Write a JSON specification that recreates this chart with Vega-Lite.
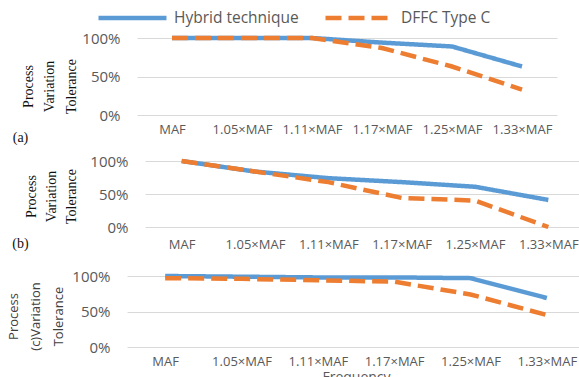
{
  "$schema": "https://vega.github.io/schema/vega-lite/v6.json",
  "autosize": {"type": "pad"},
  "padding": {"left": 0, "top": -19, "right": 0, "bottom": 0},
  "config": {
    "view": {"stroke": null},
    "font": "Open Sans",
    "axis": {"labelFont": "Open Sans", "titleFont": "Open Sans", "titleFontWeight": "normal"}
  },
  "data": {"values": [
    {"panel": "a", "series": "Hybrid technique", "freq": "MAF", "tol": 100},
    {"panel": "a", "series": "Hybrid technique", "freq": "1.05×MAF", "tol": 100},
    {"panel": "a", "series": "Hybrid technique", "freq": "1.11×MAF", "tol": 100},
    {"panel": "a", "series": "Hybrid technique", "freq": "1.17×MAF", "tol": 94},
    {"panel": "a", "series": "Hybrid technique", "freq": "1.25×MAF", "tol": 89},
    {"panel": "a", "series": "Hybrid technique", "freq": "1.33×MAF", "tol": 63},
    {"panel": "a", "series": "DFFC Type C", "freq": "MAF", "tol": 100},
    {"panel": "a", "series": "DFFC Type C", "freq": "1.05×MAF", "tol": 100},
    {"panel": "a", "series": "DFFC Type C", "freq": "1.11×MAF", "tol": 100},
    {"panel": "a", "series": "DFFC Type C", "freq": "1.17×MAF", "tol": 87},
    {"panel": "a", "series": "DFFC Type C", "freq": "1.25×MAF", "tol": 63},
    {"panel": "a", "series": "DFFC Type C", "freq": "1.33×MAF", "tol": 33},
    {"panel": "b", "series": "Hybrid technique", "freq": "MAF", "tol": 100},
    {"panel": "b", "series": "Hybrid technique", "freq": "1.05×MAF", "tol": 84},
    {"panel": "b", "series": "Hybrid technique", "freq": "1.11×MAF", "tol": 74},
    {"panel": "b", "series": "Hybrid technique", "freq": "1.17×MAF", "tol": 68},
    {"panel": "b", "series": "Hybrid technique", "freq": "1.25×MAF", "tol": 61},
    {"panel": "b", "series": "Hybrid technique", "freq": "1.33×MAF", "tol": 41},
    {"panel": "b", "series": "DFFC Type C", "freq": "MAF", "tol": 100},
    {"panel": "b", "series": "DFFC Type C", "freq": "1.05×MAF", "tol": 84},
    {"panel": "b", "series": "DFFC Type C", "freq": "1.11×MAF", "tol": 68},
    {"panel": "b", "series": "DFFC Type C", "freq": "1.17×MAF", "tol": 44},
    {"panel": "b", "series": "DFFC Type C", "freq": "1.25×MAF", "tol": 40},
    {"panel": "b", "series": "DFFC Type C", "freq": "1.33×MAF", "tol": 0},
    {"panel": "c", "series": "Hybrid technique", "freq": "MAF", "tol": 100},
    {"panel": "c", "series": "Hybrid technique", "freq": "1.05×MAF", "tol": 99},
    {"panel": "c", "series": "Hybrid technique", "freq": "1.11×MAF", "tol": 98},
    {"panel": "c", "series": "Hybrid technique", "freq": "1.17×MAF", "tol": 98},
    {"panel": "c", "series": "Hybrid technique", "freq": "1.25×MAF", "tol": 97},
    {"panel": "c", "series": "Hybrid technique", "freq": "1.33×MAF", "tol": 69},
    {"panel": "c", "series": "DFFC Type C", "freq": "MAF", "tol": 97},
    {"panel": "c", "series": "DFFC Type C", "freq": "1.05×MAF", "tol": 96},
    {"panel": "c", "series": "DFFC Type C", "freq": "1.11×MAF", "tol": 94},
    {"panel": "c", "series": "DFFC Type C", "freq": "1.17×MAF", "tol": 92},
    {"panel": "c", "series": "DFFC Type C", "freq": "1.25×MAF", "tol": 74},
    {"panel": "c", "series": "DFFC Type C", "freq": "1.33×MAF", "tol": 45}
  ]},
  "bounds": "full",
  "spacing": 8,
  "resolve": {"scale": {"x": "independent", "y": "independent"}, "axis": {"x": "independent", "y": "independent"}},
  "vconcat": [
    {
      "hconcat": [
        {"width": 137, "height": 77, "data": {"values": []}, "mark": "point"},
        {
          "width": 420, "height": 77,
          "transform": [{"filter": "datum.panel === 'a'"}],
          "encoding": {
            "x": {"field": "freq", "type": "nominal", "sort": ["MAF", "1.05×MAF", "1.11×MAF", "1.17×MAF", "1.25×MAF", "1.33×MAF"],
              "scale": {"type": "point", "padding": 0.5},
              "axis": {"title": "(a)", "titleFont": "Liberation Serif", "titleFontSize": 14, "titleColor": "#111111", "titleX": -117, "titleY": 22, "titleAlign": "center", "titleBaseline": "middle", "titleAngle": 0,
                "labelAngle": 0, "labelFontSize": 13, "labelColor": "#595959", "labelPadding": 8, "labelOverlap": false, "domain": false, "ticks": false, "grid": false}},
            "y": {"field": "tol", "type": "quantitative", "scale": {"domain": [0, 100], "nice": false},
              "axis": {"values": [0, 50, 100], "labelExpr": "datum.value + '%'", "grid": true, "gridColor": "#d9d9d9", "gridWidth": 1.2, "domain": false, "ticks": false,
                "labelPadding": 17, "labelFontSize": 15, "labelColor": "#595959",
                "title": ["Process", "Variation", "Tolerance"], "titleFont": "Liberation Serif", "titleFontSize": 14, "titleColor": "#111111",
                "titleAngle": 270, "titleAlign": "center", "titleBaseline": "alphabetic", "titleX": -105, "titleY": 48, "titleLineHeight": 21.5}},
            "color": {"field": "series", "type": "nominal", "title": null,
              "scale": {"domain": ["Hybrid technique", "DFFC Type C"], "range": ["#5b9bd5", "#ed7d31"]},
              "legend": {"orient": "none", "legendX": 96, "legendY": -56.7, "direction": "horizontal", "symbolType": "stroke", "symbolSize": 4624, "symbolStrokeWidth": 4.5, "labelFontSize": 15.5, "labelColor": "#595959", "labelOffset": 5, "columnPadding": 17, "padding": 0}},
            "strokeDash": {"field": "series", "type": "nominal", "title": null,
              "scale": {"domain": ["Hybrid technique", "DFFC Type C"], "range": [[1, 0], [16, 7]]},
              "legend": {"orient": "none", "legendX": 96, "legendY": -56.7, "direction": "horizontal", "symbolType": "stroke", "symbolSize": 4624, "symbolStrokeWidth": 4.5, "labelFontSize": 15.5, "labelColor": "#595959", "labelOffset": 5, "columnPadding": 17, "padding": 0}}
          },
          "layer": [
            {"transform": [{"filter": "datum.series === 'Hybrid technique'"}], "mark": {"type": "line", "strokeWidth": 4.5}},
            {"transform": [{"filter": "datum.series === 'DFFC Type C'"}], "mark": {"type": "line", "strokeWidth": 4.5}}
          ]
        }
      ],
      "spacing": 0, "bounds": "flush"
    },
    {
      "hconcat": [
        {"width": 145, "height": 66, "data": {"values": []}, "mark": "point"},
        {
          "width": 440, "height": 66,
          "transform": [{"filter": "datum.panel === 'b'"}],
          "encoding": {
            "x": {"field": "freq", "type": "nominal", "sort": ["MAF", "1.05×MAF", "1.11×MAF", "1.17×MAF", "1.25×MAF", "1.33×MAF"],
              "scale": {"type": "point", "padding": 0.5},
              "axis": {"title": ["(b)", ""], "titleFont": "Liberation Serif", "titleFontSize": 14, "titleColor": "#111111", "titleX": -125, "titleY": 9, "titleAlign": "center", "titleBaseline": "top", "titleAngle": 0, "titleLineHeight": 9,
                "labelAngle": 0, "labelFontSize": 13, "labelColor": "#595959", "labelPadding": 11, "labelOverlap": false, "domain": false, "ticks": false, "grid": false}},
            "y": {"field": "tol", "type": "quantitative", "scale": {"domain": [0, 100], "nice": false},
              "axis": {"values": [0, 50, 100], "labelExpr": "datum.value + '%'", "grid": true, "gridColor": "#d9d9d9", "gridWidth": 1.2, "domain": false, "ticks": false,
                "labelPadding": 17, "labelFontSize": 15, "labelColor": "#595959",
                "title": ["Process", "Variation", "Tolerance"], "titleFont": "Liberation Serif", "titleFontSize": 14, "titleColor": "#111111",
                "titleAngle": 270, "titleAlign": "center", "titleBaseline": "alphabetic", "titleX": -110, "titleY": 35, "titleLineHeight": 20}},
            "color": {"field": "series", "type": "nominal", "title": null,
              "scale": {"domain": ["Hybrid technique", "DFFC Type C"], "range": ["#5b9bd5", "#ed7d31"]},
              "legend": {"orient": "none", "legendX": 96, "legendY": -56.7, "direction": "horizontal", "symbolType": "stroke", "symbolSize": 4624, "symbolStrokeWidth": 4.5, "labelFontSize": 15.5, "labelColor": "#595959", "labelOffset": 5, "columnPadding": 17, "padding": 0}},
            "strokeDash": {"field": "series", "type": "nominal", "title": null,
              "scale": {"domain": ["Hybrid technique", "DFFC Type C"], "range": [[1, 0], [16, 7]]},
              "legend": {"orient": "none", "legendX": 96, "legendY": -56.7, "direction": "horizontal", "symbolType": "stroke", "symbolSize": 4624, "symbolStrokeWidth": 4.5, "labelFontSize": 15.5, "labelColor": "#595959", "labelOffset": 5, "columnPadding": 17, "padding": 0}}
          },
          "layer": [
            {"transform": [{"filter": "datum.series === 'Hybrid technique'"}], "mark": {"type": "line", "strokeWidth": 4.5}},
            {"transform": [{"filter": "datum.series === 'DFFC Type C'"}], "mark": {"type": "line", "strokeWidth": 4.5}}
          ]
        }
      ],
      "spacing": 0, "bounds": "flush"
    },
    {
      "hconcat": [
        {"width": 127, "height": 71, "data": {"values": []}, "mark": "point"},
        {
          "width": 458, "height": 71,
          "transform": [{"filter": "datum.panel === 'c'"}],
          "encoding": {
            "x": {"field": "freq", "type": "nominal", "sort": ["MAF", "1.05×MAF", "1.11×MAF", "1.17×MAF", "1.25×MAF", "1.33×MAF"],
              "scale": {"type": "point", "padding": 0.5},
              "axis": {"title": "Frequency", "titleFontSize": 14, "titleColor": "#595959", "titleY": 23, "titleBaseline": "top",
                "labelAngle": 0, "labelFontSize": 13, "labelColor": "#595959", "labelPadding": 8, "labelOverlap": false, "domain": false, "ticks": false, "grid": false}},
            "y": {"field": "tol", "type": "quantitative", "scale": {"domain": [0, 100], "nice": false},
              "axis": {"values": [0, 50, 100], "labelExpr": "datum.value + '%'", "grid": true, "gridColor": "#d9d9d9", "gridWidth": 1.2, "domain": false, "ticks": false,
                "labelPadding": 17, "labelFontSize": 15, "labelColor": "#595959",
                "title": ["Process", "(c)Variation", "Tolerance"], "titleFontSize": 13, "titleColor": "#404040",
                "titleAngle": 270, "titleAlign": "center", "titleBaseline": "alphabetic", "titleX": -110, "titleY": 40, "titleLineHeight": 22.5}},
            "color": {"field": "series", "type": "nominal", "title": null,
              "scale": {"domain": ["Hybrid technique", "DFFC Type C"], "range": ["#5b9bd5", "#ed7d31"]},
              "legend": {"orient": "none", "legendX": 96, "legendY": -56.7, "direction": "horizontal", "symbolType": "stroke", "symbolSize": 4624, "symbolStrokeWidth": 4.5, "labelFontSize": 15.5, "labelColor": "#595959", "labelOffset": 5, "columnPadding": 17, "padding": 0}},
            "strokeDash": {"field": "series", "type": "nominal", "title": null,
              "scale": {"domain": ["Hybrid technique", "DFFC Type C"], "range": [[1, 0], [16, 7]]},
              "legend": {"orient": "none", "legendX": 96, "legendY": -56.7, "direction": "horizontal", "symbolType": "stroke", "symbolSize": 4624, "symbolStrokeWidth": 4.5, "labelFontSize": 15.5, "labelColor": "#595959", "labelOffset": 5, "columnPadding": 17, "padding": 0}}
          },
          "layer": [
            {"transform": [{"filter": "datum.series === 'Hybrid technique'"}], "mark": {"type": "line", "strokeWidth": 4.5}},
            {"transform": [{"filter": "datum.series === 'DFFC Type C'"}], "mark": {"type": "line", "strokeWidth": 4.5}}
          ]
        }
      ],
      "spacing": 0, "bounds": "flush"
    }
  ]
}
